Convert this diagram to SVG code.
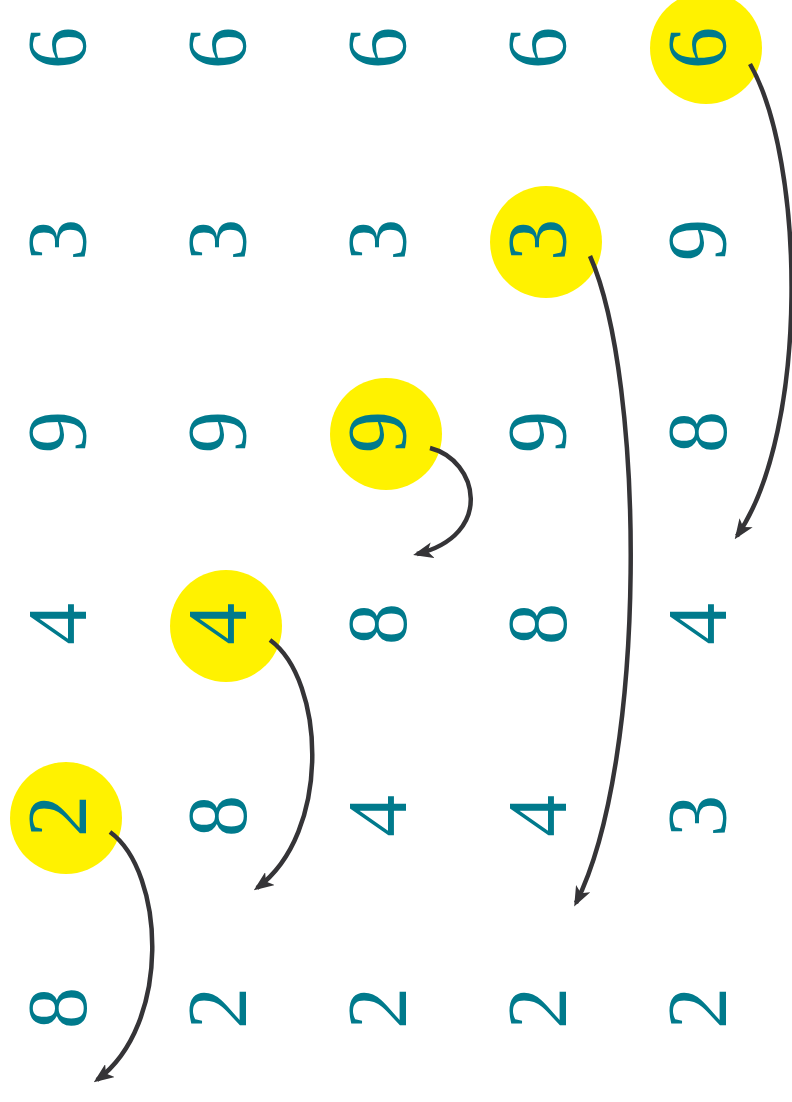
<svg xmlns="http://www.w3.org/2000/svg" width="792" height="1102" viewBox="0 0 792 1102">
<style>
.d{font-size:84px;fill:#007A8C;text-anchor:middle}
.hl{fill:#FFF200}
.a{fill:none;stroke:#353437;stroke-width:4.5;marker-end:url(#ah)}
</style>
<defs>
<marker id="ah" markerUnits="userSpaceOnUse" viewBox="0 0 20 16" markerWidth="20" markerHeight="16" refX="16" refY="8" orient="auto">
<path d="M0,0 L20,8 L0,16 L5,8 Z" fill="#353437"/>
</marker>
</defs>
<rect width="792" height="1102" fill="#fff"/>
<g id="highlights">
<circle class="hl" cx="66" cy="818" r="56"/>
<circle class="hl" cx="226" cy="626" r="56"/>
<circle class="hl" cx="386" cy="434" r="56"/>
<circle class="hl" cx="546" cy="242" r="56"/>
<circle class="hl" cx="706" cy="48" r="56"/>
</g>
<g font-family="Liberation Serif">
<g id="col1">
<text class="d" font-family="Liberation Serif" transform="translate(86,48) rotate(-90)">6</text>
<text class="d" font-family="Liberation Serif" transform="translate(86,240) rotate(-90)">3</text>
<text class="d" font-family="Liberation Serif" transform="translate(86,432) rotate(-90)">9</text>
<text class="d" font-family="Liberation Serif" transform="translate(86,624) rotate(-90)">4</text>
<text class="d" font-family="Liberation Serif" transform="translate(86,816) rotate(-90)">2</text>
<text class="d" font-family="Liberation Serif" transform="translate(86,1008) rotate(-90)">8</text>
</g>
<g id="col2">
<text class="d" font-family="Liberation Serif" transform="translate(246,48) rotate(-90)">6</text>
<text class="d" font-family="Liberation Serif" transform="translate(246,240) rotate(-90)">3</text>
<text class="d" font-family="Liberation Serif" transform="translate(246,432) rotate(-90)">9</text>
<text class="d" font-family="Liberation Serif" transform="translate(246,624) rotate(-90)">4</text>
<text class="d" font-family="Liberation Serif" transform="translate(246,816) rotate(-90)">8</text>
<text class="d" font-family="Liberation Serif" transform="translate(246,1008) rotate(-90)">2</text>
</g>
<g id="col3">
<text class="d" font-family="Liberation Serif" transform="translate(406,48) rotate(-90)">6</text>
<text class="d" font-family="Liberation Serif" transform="translate(406,240) rotate(-90)">3</text>
<text class="d" font-family="Liberation Serif" transform="translate(406,432) rotate(-90)">9</text>
<text class="d" font-family="Liberation Serif" transform="translate(406,624) rotate(-90)">8</text>
<text class="d" font-family="Liberation Serif" transform="translate(406,816) rotate(-90)">4</text>
<text class="d" font-family="Liberation Serif" transform="translate(406,1008) rotate(-90)">2</text>
</g>
<g id="col4">
<text class="d" font-family="Liberation Serif" transform="translate(566,48) rotate(-90)">6</text>
<text class="d" font-family="Liberation Serif" transform="translate(566,240) rotate(-90)">3</text>
<text class="d" font-family="Liberation Serif" transform="translate(566,432) rotate(-90)">9</text>
<text class="d" font-family="Liberation Serif" transform="translate(566,624) rotate(-90)">8</text>
<text class="d" font-family="Liberation Serif" transform="translate(566,816) rotate(-90)">4</text>
<text class="d" font-family="Liberation Serif" transform="translate(566,1008) rotate(-90)">2</text>
</g>
<g id="col5">
<text class="d" font-family="Liberation Serif" transform="translate(726,48) rotate(-90)">6</text>
<text class="d" font-family="Liberation Serif" transform="translate(726,240) rotate(-90)">9</text>
<text class="d" font-family="Liberation Serif" transform="translate(726,432) rotate(-90)">8</text>
<text class="d" font-family="Liberation Serif" transform="translate(726,624) rotate(-90)">4</text>
<text class="d" font-family="Liberation Serif" transform="translate(726,816) rotate(-90)">3</text>
<text class="d" font-family="Liberation Serif" transform="translate(726,1008) rotate(-90)">2</text>
</g>
</g>
<g id="connectors">
<path class="a" d="M110,832 C 165,872 172,1025 97,1080"/>
<path class="a" d="M270,640 C 325,680 332,833 257,888"/>
<path class="a" d="M430,448 C 478,460 495,535 417,554"/>
<path class="a" d="M590,256 C 645,380 648,760 576,903"/>
<path class="a" d="M750,64 C 805,160 810,430 737,536"/>
</g>
</svg>
